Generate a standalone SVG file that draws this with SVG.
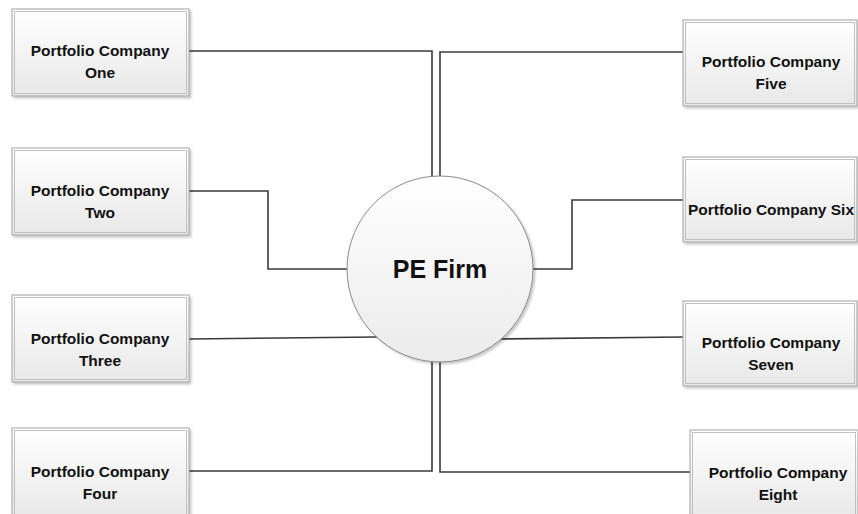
<svg xmlns="http://www.w3.org/2000/svg" width="858" height="514" viewBox="0 0 858 514">
<defs>
<linearGradient id="g" x1="0" y1="0" x2="0" y2="1">
<stop offset="0" stop-color="#ffffff"/>
<stop offset="1" stop-color="#e8e8e8"/>
</linearGradient>
<linearGradient id="cg" x1="0" y1="0" x2="0" y2="1">
<stop offset="0" stop-color="#ffffff"/>
<stop offset="1" stop-color="#ebebeb"/>
</linearGradient>
<filter id="sh" x="-10%" y="-10%" width="120%" height="120%">
<feDropShadow dx="2" dy="2" stdDeviation="1" flood-color="#000" flood-opacity="0.22"/>
</filter>
</defs>
<style>
.box{fill:url(#g);stroke:#a0a0a0;stroke-width:1;filter:url(#sh)}
.inner{fill:none;stroke:#c0c0c0;stroke-width:1}
.t{font-family:"Liberation Sans",Arial,sans-serif;font-weight:bold;font-size:15.5px;fill:#111;text-anchor:middle}
.c{fill:none;stroke:#3a3a3a;stroke-width:1.6}
</style>
<rect width="858" height="514" fill="#fff"/>
<g id="connectors">
<polyline class="c" points="189,51 432,51 432,177"/>
<polyline class="c" points="683,52 440,52 440,177"/>
<polyline class="c" points="189,191 268,191 268,269 347,269"/>
<polyline class="c" points="683,200 572,200 572,269 533,269"/>
<polyline class="c" points="189,339 377,337"/>
<polyline class="c" points="500,339 683,337"/>
<polyline class="c" points="189,471 432,471 432,362"/>
<polyline class="c" points="690,472 440,472 440,362"/>
</g>
<g id="pe-firm">
<circle cx="440" cy="269" r="93" fill="url(#cg)" stroke="#8a8a8a" stroke-width="1" filter="url(#sh)"/>
<text x="440" y="278" class="t" style="font-size:25px">PE Firm</text>
</g>
<g id="company-one">
<rect class="box" x="12" y="9" width="177" height="87"/>
<rect class="inner" x="14.5" y="11.5" width="172" height="82"/>
<text class="t" x="100" y="56">Portfolio Company</text>
<text class="t" x="100" y="78">One</text>
</g>
<g id="company-two">
<rect class="box" x="12" y="148" width="177" height="87"/>
<rect class="inner" x="14.5" y="150.5" width="172" height="82"/>
<text class="t" x="100" y="196">Portfolio Company</text>
<text class="t" x="100" y="218">Two</text>
</g>
<g id="company-three">
<rect class="box" x="12" y="295" width="177" height="87"/>
<rect class="inner" x="14.5" y="297.5" width="172" height="82"/>
<text class="t" x="100" y="344">Portfolio Company</text>
<text class="t" x="100" y="366">Three</text>
</g>
<g id="company-four">
<rect class="box" x="12" y="428" width="177" height="90"/>
<rect class="inner" x="14.5" y="430.5" width="172" height="85"/>
<text class="t" x="100" y="477">Portfolio Company</text>
<text class="t" x="100" y="499">Four</text>
</g>
<g id="company-five">
<rect class="box" x="683" y="20" width="174" height="86"/>
<rect class="inner" x="685.5" y="22.5" width="169" height="81"/>
<text class="t" x="771" y="67">Portfolio Company</text>
<text class="t" x="771" y="89">Five</text>
</g>
<g id="company-six">
<rect class="box" x="683" y="157" width="174" height="85"/>
<rect class="inner" x="685.5" y="159.5" width="169" height="80"/>
<text class="t" x="771" y="215" textLength="166" lengthAdjust="spacingAndGlyphs">Portfolio Company Six</text>
</g>
<g id="company-seven">
<rect class="box" x="683" y="301" width="174" height="85"/>
<rect class="inner" x="685.5" y="303.5" width="169" height="80"/>
<text class="t" x="771" y="348">Portfolio Company</text>
<text class="t" x="771" y="370">Seven</text>
</g>
<g id="company-eight">
<rect class="box" x="690" y="430" width="168" height="90"/>
<rect class="inner" x="692.5" y="432.5" width="163" height="85"/>
<text class="t" x="778" y="478">Portfolio Company</text>
<text class="t" x="778" y="500">Eight</text>
</g>
</svg>
